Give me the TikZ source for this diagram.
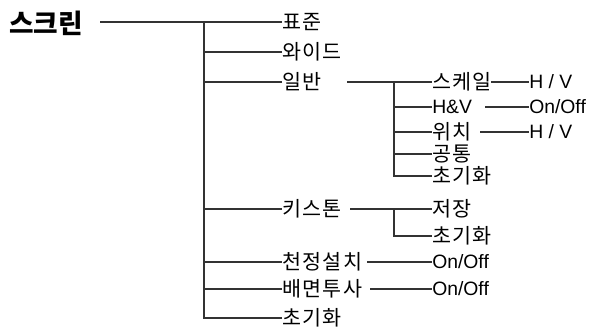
\documentclass[tikz,border=0pt]{standalone}
\usepackage{fontspec}
\setmainfont{Liberation Sans}
\newfontfamily\kr[LetterSpace=6]{Noto Sans CJK KR}
\newfontfamily\krt{Noto Sans CJK KR}
\begin{document}
\begin{tikzpicture}[x=0.75pt,y=-0.75pt,
  conn/.style={draw=black!80, line width=0.9pt},
  lbl/.style={anchor=west, inner sep=0pt, font=\kr\fontsize{15.5}{17}\selectfont},
  lat/.style={anchor=west, inner sep=0pt, font=\fontsize{14.5}{16}\selectfont},
  ttl/.style={anchor=west, inner sep=0pt, font=\krt\bfseries\fontsize{20}{22}\selectfont}]
\useasboundingbox (0,0) rectangle (602,327);
% title
\node[ttl] (title) at (9,23) {스크린};
% level 1
\node[lbl] (std)  at (282,22)  {표준};
\node[lbl] (wide) at (282,52)  {와이드};
\node[lbl] (gen)  at (282,82)  {일반};
\node[lbl] (key)  at (282,209) {키스톤};
\node[lbl] (ceil) at (282,262) {천정설치};
\node[lbl] (rear) at (282,289) {배면투사};
\node[lbl] (init) at (282,318) {초기화};
% level 2 (general)
\node[lbl] (scale) at (432,82)  {스케일};
\node[lat] (hv)    at (432,107) {H\&V};
\node[lbl] (pos)   at (432,132) {위치};
\node[lbl] (com)   at (432,154) {공통};
\node[lbl] (ginit) at (432,176) {초기화};
% level 3
\node[lat] (sh) at (529,82)  {H / V};
\node[lat] (ho) at (529,107) {On/Off};
\node[lat] (ph) at (529,132) {H / V};
% keystone
\node[lbl] (save)  at (432,209) {저장};
\node[lbl] (kinit) at (432,236) {초기화};
% on/off
\node[lat] (con) at (432,262) {On/Off};
\node[lat] (ron) at (432,289) {On/Off};
% coordinates
\coordinate (ts) at (100,22);
\coordinate (tt) at (204,22);
\coordinate (tb) at (204,318);
\coordinate (g0) at (347,82);
\coordinate (gs) at (394,82);
\coordinate (ge) at (394,176);
\coordinate (s0) at (491,82);
\coordinate (h0) at (485,107);
\coordinate (p0) at (480,132);
\coordinate (k0) at (350,209);
\coordinate (ks) at (394,209);
\coordinate (ke) at (394,236);
\coordinate (c0) at (367,262);
\coordinate (r0) at (370,289);
% connectors
\draw[conn] (ts) -- (std.west);
\draw[conn] (tt) -- (tb) -- (init.west);
\draw[conn] (tt |- wide.west) -- (wide.west);
\draw[conn] (tt |- gen.west) -- (gen.west);
\draw[conn] (tt |- key.west) -- (key.west);
\draw[conn] (tt |- ceil.west) -- (ceil.west);
\draw[conn] (tt |- rear.west) -- (rear.west);
\draw[conn] (g0) -- (scale.west);
\draw[conn] (gs) -- (ge) -- (ginit.west);
\draw[conn] (gs |- hv.west) -- (hv.west);
\draw[conn] (gs |- pos.west) -- (pos.west);
\draw[conn] (gs |- com.west) -- (com.west);
\draw[conn] (s0) -- (sh.west);
\draw[conn] (h0) -- (ho.west);
\draw[conn] (p0) -- (ph.west);
\draw[conn] (k0) -- (save.west);
\draw[conn] (ks) -- (ke) -- (kinit.west);
\draw[conn] (c0) -- (con.west);
\draw[conn] (r0) -- (ron.west);
\end{tikzpicture}
\end{document}
